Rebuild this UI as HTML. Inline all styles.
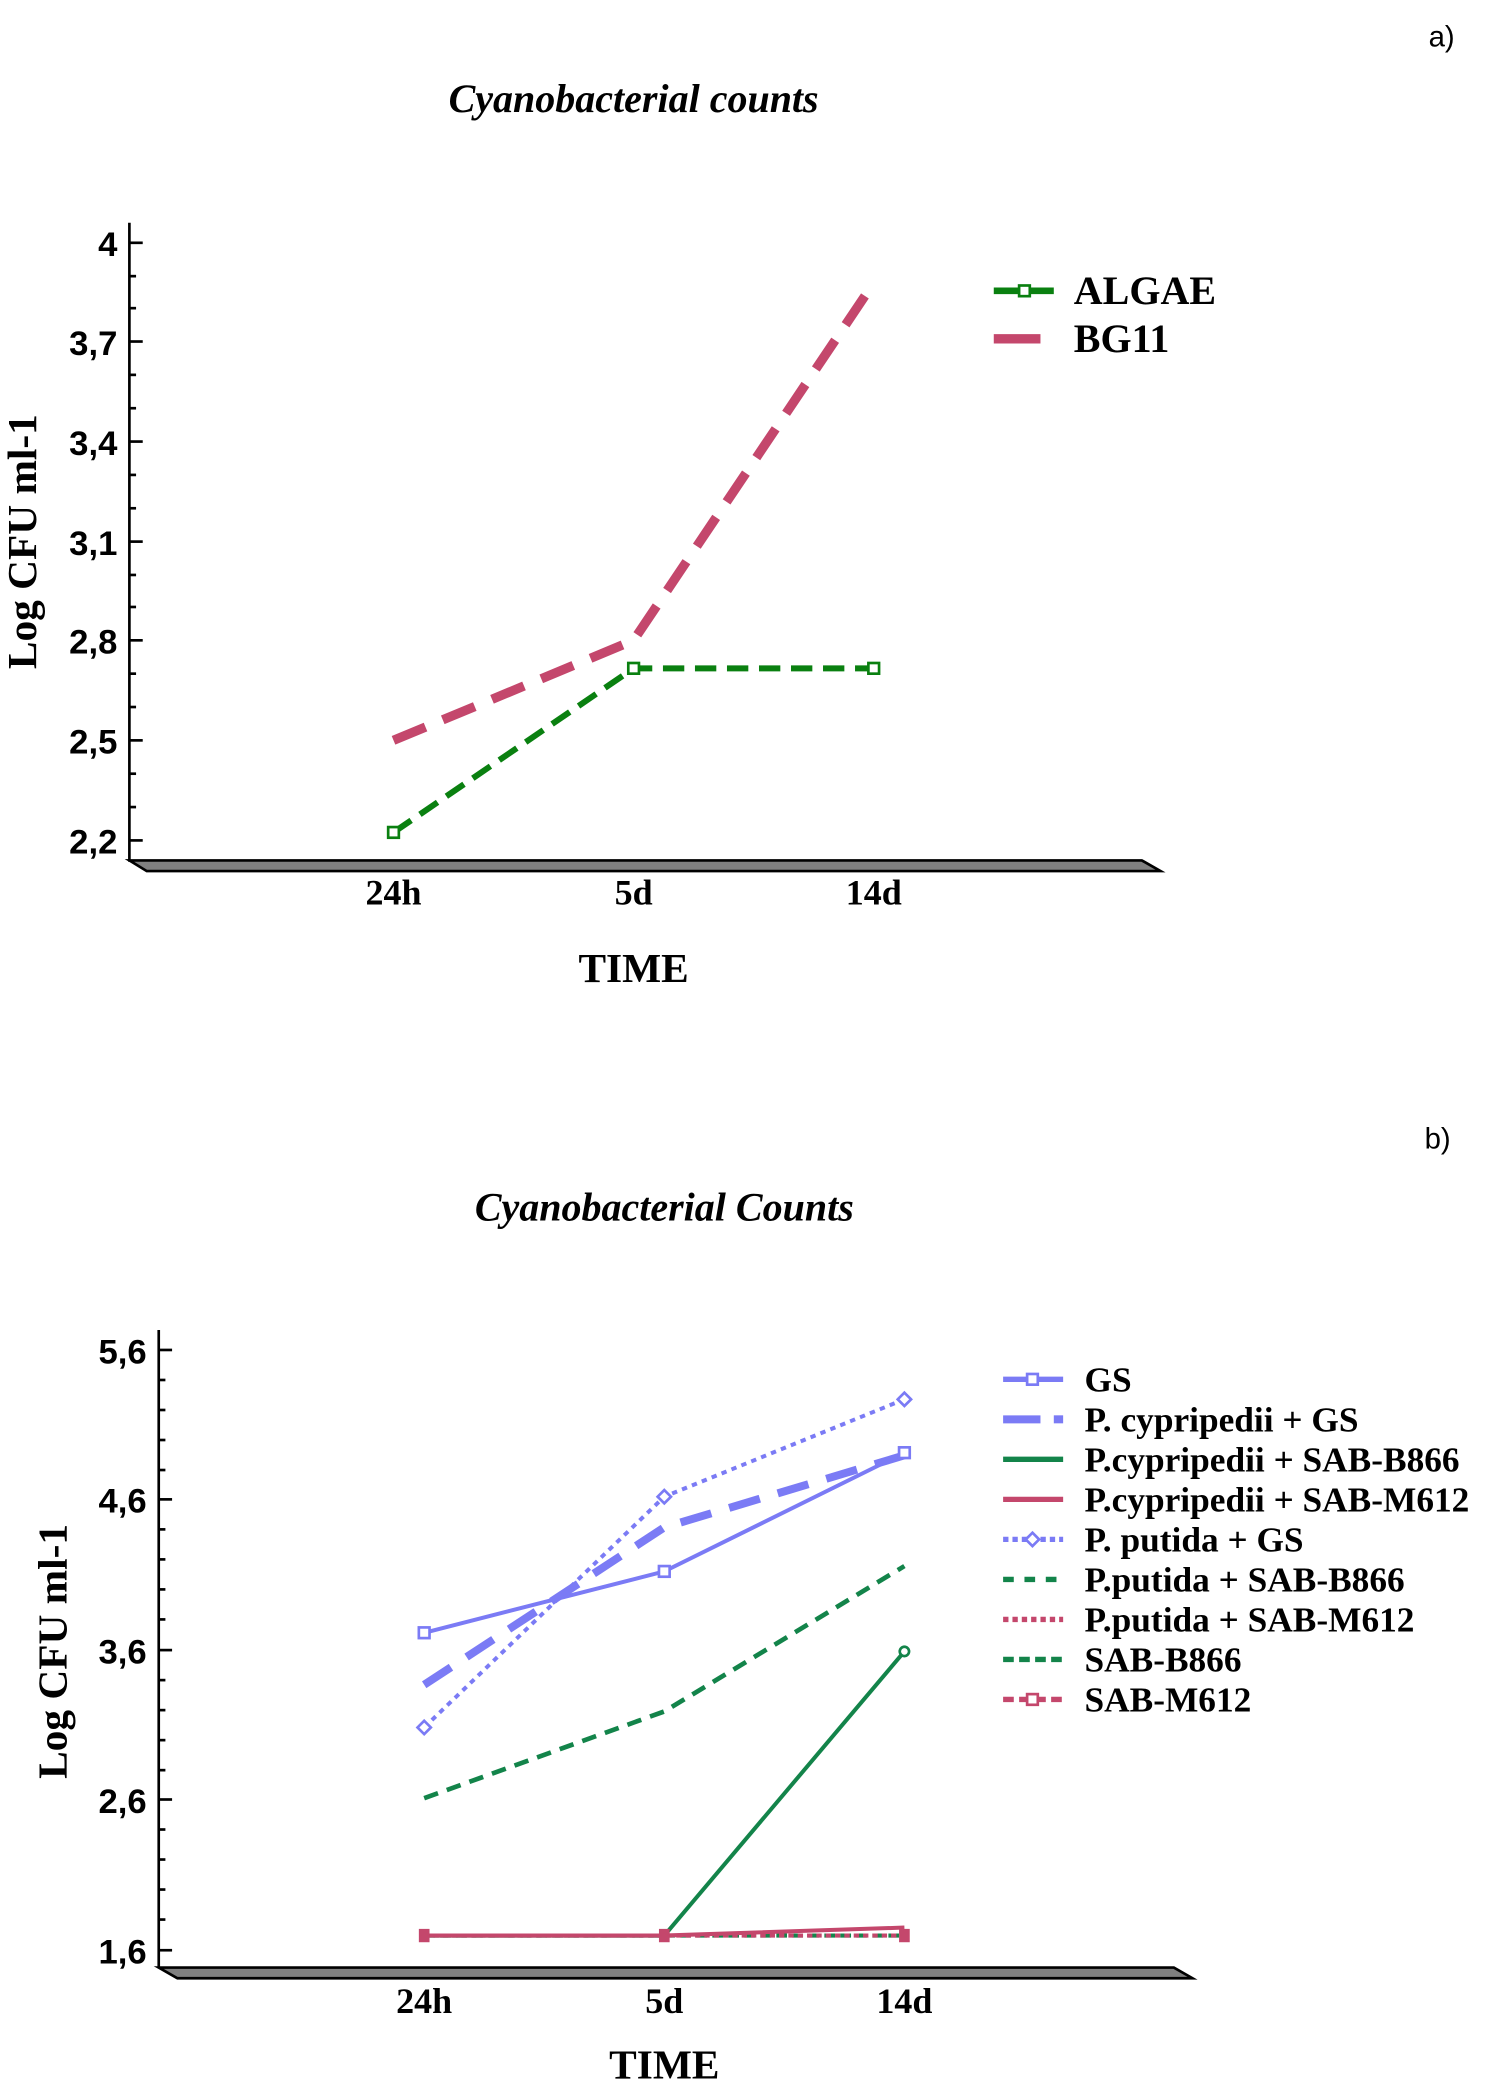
<!DOCTYPE html>
<html><head><meta charset="utf-8"><style>html,body{margin:0;padding:0;background:#fff}svg{display:block}</style></head>
<body>
<svg width="1502" height="2091" viewBox="0 0 1126 1567.5" xmlns="http://www.w3.org/2000/svg">
<g font-family="Liberation Serif, serif" font-weight="bold">
<!-- Chart a -->
<text x="1071" y="35" font-family="Liberation Sans, sans-serif" font-weight="normal" font-size="22">a)</text>
<text x="475" y="84" text-anchor="middle" font-style="italic" font-size="30">Cyanobacterial counts</text>
<text transform="translate(27,406) rotate(-90)" text-anchor="middle" font-size="31">Log CFU ml-1</text>
<line x1="97" y1="167" x2="97" y2="646" stroke="#000" stroke-width="2"/>
<g stroke="#000" stroke-width="2">
<line x1="97" y1="182" x2="107" y2="182"/><line x1="97" y1="256" x2="107" y2="256"/><line x1="97" y1="331" x2="107" y2="331"/><line x1="97" y1="406" x2="107" y2="406"/><line x1="97" y1="480" x2="107" y2="480"/><line x1="97" y1="555" x2="107" y2="555"/><line x1="97" y1="630" x2="107" y2="630"/>
<line x1="97" y1="207" x2="102" y2="207"/><line x1="97" y1="231" x2="102" y2="231"/><line x1="97" y1="281" x2="102" y2="281"/><line x1="97" y1="306" x2="102" y2="306"/><line x1="97" y1="356" x2="102" y2="356"/><line x1="97" y1="381" x2="102" y2="381"/><line x1="97" y1="431" x2="102" y2="431"/><line x1="97" y1="455" x2="102" y2="455"/><line x1="97" y1="505" x2="102" y2="505"/><line x1="97" y1="530" x2="102" y2="530"/><line x1="97" y1="580" x2="102" y2="580"/><line x1="97" y1="605" x2="102" y2="605"/>
</g>
<g font-family="Liberation Sans, sans-serif" font-size="26" text-anchor="end">
<text x="88" y="192">4</text><text x="88" y="266">3,7</text><text x="88" y="341">3,4</text><text x="88" y="416">3,1</text><text x="88" y="490">2,8</text><text x="88" y="565">2,5</text><text x="88" y="640">2,2</text>
</g>
<polygon points="97,645 856,645 870,653 110,653" fill="#808080" stroke="#000" stroke-width="2"/>
<g font-size="27" text-anchor="middle"><text x="295" y="678">24h</text><text x="475" y="678">5d</text><text x="655" y="678">14d</text></g>
<text x="475" y="736" text-anchor="middle" font-size="31">TIME</text>
<polyline points="295,555 475,480 655,212" fill="none" stroke="#c4476c" stroke-width="7" stroke-dasharray="26,14"/>
<polyline points="295,624 475,501 655,501" fill="none" stroke="#0a8010" stroke-width="4.5" stroke-dasharray="16,8"/>
<rect x="291" y="620" width="8" height="8" fill="#fff" stroke="#0a8010" stroke-width="2"/>
<rect x="471" y="497" width="8" height="8" fill="#fff" stroke="#0a8010" stroke-width="2"/>
<rect x="651" y="497" width="8" height="8" fill="#fff" stroke="#0a8010" stroke-width="2"/>
<line x1="745" y1="218" x2="790" y2="218" stroke="#0a8010" stroke-width="5"/>
<rect x="764" y="214" width="8" height="8" fill="#fff" stroke="#0a8010" stroke-width="2"/>
<line x1="745" y1="254" x2="780" y2="254" stroke="#c4476c" stroke-width="7"/>
<text x="805" y="228" font-size="30">ALGAE</text>
<text x="805" y="264" font-size="30">BG11</text>

<!-- Chart b -->
<text x="1068" y="861" font-family="Liberation Sans, sans-serif" font-weight="normal" font-size="22">b)</text>
<text x="498" y="915" text-anchor="middle" font-style="italic" font-size="30">Cyanobacterial Counts</text>
<text transform="translate(50,1238) rotate(-90)" text-anchor="middle" font-size="31">Log CFU ml-1</text>
<line x1="119" y1="997" x2="119" y2="1475" stroke="#000" stroke-width="2"/>
<g stroke="#000" stroke-width="2">
<line x1="119" y1="1012" x2="129" y2="1012"/><line x1="119" y1="1124" x2="129" y2="1124"/><line x1="119" y1="1237" x2="129" y2="1237"/><line x1="119" y1="1349" x2="129" y2="1349"/><line x1="119" y1="1462" x2="129" y2="1462"/>
<line x1="119" y1="1034.5" x2="124" y2="1034.5"/><line x1="119" y1="1057" x2="124" y2="1057"/><line x1="119" y1="1079.5" x2="124" y2="1079.5"/><line x1="119" y1="1102" x2="124" y2="1102"/>
<line x1="119" y1="1146.5" x2="124" y2="1146.5"/><line x1="119" y1="1169" x2="124" y2="1169"/><line x1="119" y1="1191.5" x2="124" y2="1191.5"/><line x1="119" y1="1214" x2="124" y2="1214"/>
<line x1="119" y1="1259.5" x2="124" y2="1259.5"/><line x1="119" y1="1282" x2="124" y2="1282"/><line x1="119" y1="1304.5" x2="124" y2="1304.5"/><line x1="119" y1="1327" x2="124" y2="1327"/>
<line x1="119" y1="1371.5" x2="124" y2="1371.5"/><line x1="119" y1="1394" x2="124" y2="1394"/><line x1="119" y1="1416.5" x2="124" y2="1416.5"/><line x1="119" y1="1439" x2="124" y2="1439"/>
</g>
<g font-family="Liberation Sans, sans-serif" font-size="26" text-anchor="end">
<text x="110" y="1022">5,6</text><text x="110" y="1134">4,6</text><text x="110" y="1247">3,6</text><text x="110" y="1359">2,6</text><text x="110" y="1472">1,6</text>
</g>
<polygon points="119,1475 880,1475 894,1483 133,1483" fill="#808080" stroke="#000" stroke-width="2"/>
<g font-size="27" text-anchor="middle"><text x="318" y="1509">24h</text><text x="498" y="1509">5d</text><text x="678" y="1509">14d</text></g>
<text x="498" y="1558" text-anchor="middle" font-size="31">TIME</text>
<!-- series -->
<polyline points="318,1451 498,1451 678,1451" fill="none" stroke="#13844a" stroke-width="3" stroke-dasharray="8,4"/>
<polyline points="318,1451 498,1451 678,1451" fill="none" stroke="#c4476c" stroke-width="3" stroke-dasharray="4,3"/>
<polyline points="318,1451 498,1451 678,1238" fill="none" stroke="#13844a" stroke-width="3"/>
<polyline points="318,1451 498,1451 678,1445" fill="none" stroke="#c4476c" stroke-width="3"/>
<rect x="314" y="1446" width="8" height="10" fill="#c4476c"/><rect x="494" y="1446" width="8" height="10" fill="#c4476c"/><rect x="674" y="1446" width="8" height="10" fill="#c4476c"/>
<circle cx="678" cy="1238" r="3.5" fill="#fff" stroke="#13844a" stroke-width="2"/>
<polyline points="318,1348 498,1283 678,1174" fill="none" stroke="#13844a" stroke-width="3.5" stroke-dasharray="11,7"/>
<polyline points="318,1224 498,1178 678,1089" fill="none" stroke="#7b7bf5" stroke-width="3"/>
<polyline points="318,1263 498,1145 678,1091" fill="none" stroke="#7b7bf5" stroke-width="6" stroke-dasharray="24,14"/>
<polyline points="318,1295 498,1122 678,1049" fill="none" stroke="#7b7bf5" stroke-width="3" stroke-dasharray="4,4"/>
<rect x="314" y="1220" width="8" height="8" fill="#fff" stroke="#7b7bf5" stroke-width="2"/>
<rect x="494" y="1174" width="8" height="8" fill="#fff" stroke="#7b7bf5" stroke-width="2"/>
<rect x="674" y="1085" width="8" height="8" fill="#fff" stroke="#7b7bf5" stroke-width="2"/>
<g fill="#fff" stroke="#7b7bf5" stroke-width="2">
<polygon points="318,1290 323,1295 318,1300 313,1295"/><polygon points="498,1117 503,1122 498,1127 493,1122"/><polygon points="678,1044 683,1049 678,1054 673,1049"/>
</g>
<!-- legend -->
<g stroke-width="4">
<line x1="752" y1="1034" x2="797" y2="1034" stroke="#7b7bf5"/>
<line x1="752" y1="1064" x2="780" y2="1064" stroke="#7b7bf5" stroke-width="6"/><line x1="790" y1="1064" x2="797" y2="1064" stroke="#7b7bf5" stroke-width="6"/>
<line x1="752" y1="1094" x2="797" y2="1094" stroke="#13844a"/>
<line x1="752" y1="1124" x2="797" y2="1124" stroke="#c4476c"/>
<line x1="752" y1="1154" x2="797" y2="1154" stroke="#7b7bf5" stroke-dasharray="4,3"/>
<line x1="752" y1="1184" x2="797" y2="1184" stroke="#13844a" stroke-dasharray="8,8"/>
<line x1="752" y1="1214" x2="797" y2="1214" stroke="#c4476c" stroke-dasharray="4,3"/>
<line x1="752" y1="1244" x2="797" y2="1244" stroke="#13844a" stroke-dasharray="8,4"/>
<line x1="752" y1="1274" x2="797" y2="1274" stroke="#c4476c" stroke-dasharray="8,4"/>
</g>
<rect x="770" y="1030" width="8" height="8" fill="#fff" stroke="#7b7bf5" stroke-width="2"/>
<polygon points="774,1149 779,1154 774,1159 769,1154" fill="#fff" stroke="#7b7bf5" stroke-width="2"/>
<rect x="770" y="1270" width="8" height="8" fill="#fff" stroke="#c4476c" stroke-width="2"/>
<g font-size="26.5">
<text x="813" y="1043">GS</text>
<text x="813" y="1073">P. cypripedii + GS</text>
<text x="813" y="1103">P.cypripedii + SAB-B866</text>
<text x="813" y="1133">P.cypripedii + SAB-M612</text>
<text x="813" y="1163">P. putida + GS</text>
<text x="813" y="1193">P.putida + SAB-B866</text>
<text x="813" y="1223">P.putida + SAB-M612</text>
<text x="813" y="1253">SAB-B866</text>
<text x="813" y="1283">SAB-M612</text>
</g>
</g>
</svg>
</body></html>
